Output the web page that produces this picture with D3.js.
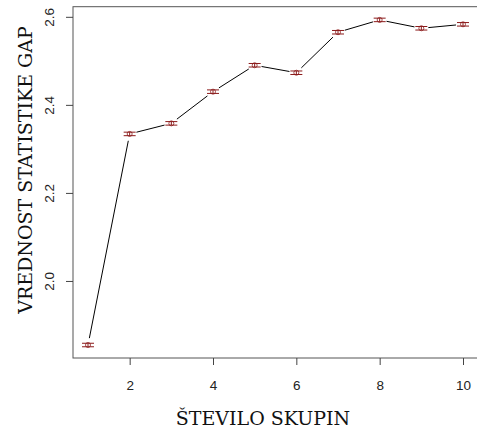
<!DOCTYPE html>
<html><head><meta charset="utf-8">
<script src="https://cdn.jsdelivr.net/npm/d3@7"></script>
<style>body{margin:0;background:#fff;}svg{display:block;}
</style>
</head><body>
<script>
const clusters = [1,2,3,4,5,6,7,8,9,10];
const gapValues = [1.8545,2.334,2.358,2.430,2.490,2.473,2.565,2.593,2.574,2.583];
const gapSE = [0.004,0.004,0.004,0.004,0.004,0.004,0.004,0.004,0.004,0.004];
const xTicks = [2,4,6,8,10];
const yTicks = [2.0,2.2,2.4,2.6];
const xLabel = "ŠTEVILO SKUPIN";
const yLabel = "VREDNOST STATISTIKE GAP";

const SERIF = "'DejaVu Serif', serif";
const SANS = "'Liberation Sans', Arial, Helvetica, sans-serif";

const W=477,H=439;
const L=73,T=6.7,R=478,B=358;
const svg=d3.select("body").append("svg").attr("width",W).attr("height",H);
const x=d3.scaleLinear().domain([0.64,10.36]).range([L,R]);
const y=d3.scaleLinear().domain([1.825,2.623]).range([B,T]);

const axCol="#444";
svg.append("rect").attr("x",L).attr("y",T).attr("width",R-L).attr("height",B-T)
  .attr("fill","none").attr("stroke","#555").attr("stroke-width",1);

const xa=svg.append("g").attr("transform",`translate(0,${B})`)
  .call(d3.axisBottom(x).tickValues(xTicks).tickSize(7).tickPadding(15).tickFormat(d3.format("d")));
xa.select(".domain").remove();
xa.attr("font-family",SANS).attr("font-size",13.5);
xa.selectAll("line").attr("stroke",axCol);
xa.selectAll("text").attr("fill","#222");

const ya=svg.append("g").attr("transform",`translate(${L},0)`)
  .call(d3.axisLeft(y).tickValues(yTicks).tickSize(7).tickFormat(d3.format(".1f")));
ya.select(".domain").remove();
ya.attr("font-family",SANS).attr("font-size",13.5);
ya.selectAll("line").attr("stroke",axCol);
ya.selectAll("text").attr("fill","#222")
  .attr("text-anchor","middle").attr("dy",null).attr("x",null).attr("y",null)
  .attr("dominant-baseline","central")
  .attr("transform","translate(-24,0) rotate(-90)");

const pts=clusters.map((c,i)=>({c,v:gapValues[i],s:gapSE[i],px:x(c),py:y(gapValues[i])}));
const gap=7;
for(let i=0;i<pts.length-1;i++){
  const a=pts[i],b=pts[i+1];
  const dx=b.px-a.px,dy=b.py-a.py,len=Math.hypot(dx,dy);
  if(len<=2*gap) continue;
  const ux=dx/len,uy=dy/len;
  svg.append("line").attr("x1",a.px+ux*gap).attr("y1",a.py+uy*gap)
    .attr("x2",b.px-ux*gap).attr("y2",b.py-uy*gap)
    .attr("stroke","#000").attr("stroke-width",1);
}

const ec="#8b1a1a";
const g=svg.append("g");
pts.forEach(p=>{
  const y1=y(p.v-p.s),y2=y(p.v+p.s);
  g.append("line").attr("x1",p.px).attr("x2",p.px).attr("y1",y1).attr("y2",y2).attr("stroke",ec).attr("stroke-width",1);
  g.append("line").attr("x1",p.px-6).attr("x2",p.px+6).attr("y1",y1).attr("y2",y1).attr("stroke",ec).attr("stroke-width",1);
  g.append("line").attr("x1",p.px-6).attr("x2",p.px+6).attr("y1",y2).attr("y2",y2).attr("stroke",ec).attr("stroke-width",1);
  g.append("circle").attr("cx",p.px).attr("cy",p.py).attr("r",2.5).attr("fill","none").attr("stroke",ec).attr("stroke-width",0.8);
});

svg.append("text").attr("x",263).attr("y",425).attr("text-anchor","middle")
  .attr("font-family",SERIF).attr("font-size",19).attr("fill","#111").text(xLabel);
svg.append("text").attr("transform",`translate(32,170) rotate(-90)`).attr("text-anchor","middle")
  .attr("font-family",SERIF).attr("font-size",19).attr("fill","#111").text(yLabel);
</script>
</body></html>
